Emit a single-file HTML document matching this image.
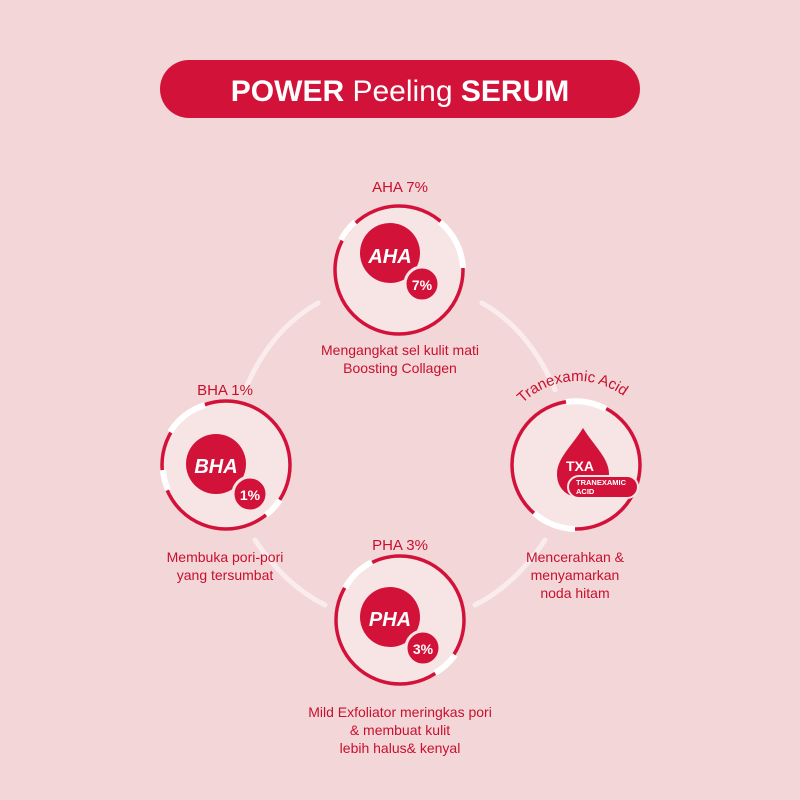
<!DOCTYPE html>
<html><head><meta charset="utf-8"><style>
body{margin:0;width:800px;height:800px;background:#f3d6d7;overflow:hidden}
svg{display:block}
text{font-family:"Liberation Sans",sans-serif}
</style></head><body>
<svg width="800" height="800" viewBox="0 0 800 800">
<defs>
<path id="arc" d="M505 430 A78 78 0 0 1 645 420" fill="none"/>
</defs>
<rect width="800" height="800" fill="#f3d6d7"/>
<g stroke="#fbeeee" stroke-width="5" fill="none" stroke-linecap="round" opacity="0.9">
<path d="M318 303 Q 270 330 245 390"/>
<path d="M482 303 Q 530 330 555 390"/>
<path d="M255 540 Q 285 585 325 605"/>
<path d="M545 540 Q 515 585 475 605"/>
</g>
<rect x="160" y="60" width="480" height="58" rx="29" fill="#d3123a"/>
<text x="400" y="101" text-anchor="middle" font-size="30" fill="#fff"><tspan font-weight="bold">POWER</tspan> Peeling <tspan font-weight="bold">SERUM</tspan></text>

<!-- AHA -->
<circle cx="399" cy="270" r="64" fill="#f7e5e6" stroke="#d3123a" stroke-width="3.5"/>
<path d="M341 240 A64 64 0 0 1 355 222" stroke="#fff" stroke-width="6" fill="none"/>
<path d="M440 222 A64 64 0 0 1 463 268" stroke="#fff" stroke-width="6" fill="none"/>
<circle cx="390" cy="253" r="30" fill="#d3123a"/>
<text x="390" y="263" text-anchor="middle" font-size="20" font-weight="bold" font-style="italic" fill="#fff">AHA</text>
<circle cx="422" cy="284" r="17" fill="#d3123a" stroke="#f7e5e6" stroke-width="3"/>
<text x="422" y="290" text-anchor="middle" font-size="14" font-weight="bold" fill="#fff">7%</text>
<text x="400" y="192" text-anchor="middle" font-size="15" fill="#c8102e">AHA 7%</text>
<text x="400" y="355" text-anchor="middle" font-size="14" fill="#c8102e">Mengangkat sel kulit mati</text>
<text x="400" y="373" text-anchor="middle" font-size="14" fill="#c8102e">Boosting Collagen</text>

<!-- BHA -->
<circle cx="226" cy="465" r="64" fill="#f7e5e6" stroke="#d3123a" stroke-width="3.5"/>
<path d="M170 432 A64 64 0 0 1 205 405" stroke="#fff" stroke-width="6" fill="none"/>
<path d="M163 470 A64 64 0 0 0 168 490" stroke="#fff" stroke-width="6" fill="none"/>
<path d="M280 500 A64 64 0 0 1 266 515" stroke="#fff" stroke-width="6" fill="none"/>
<circle cx="216" cy="464" r="30" fill="#d3123a"/>
<text x="216" y="473" text-anchor="middle" font-size="20" font-weight="bold" font-style="italic" fill="#fff">BHA</text>
<circle cx="250" cy="494" r="17" fill="#d3123a" stroke="#f7e5e6" stroke-width="3"/>
<text x="250" y="500" text-anchor="middle" font-size="14" font-weight="bold" fill="#fff">1%</text>
<text x="225" y="395" text-anchor="middle" font-size="15" fill="#c8102e">BHA 1%</text>
<text x="225" y="562" text-anchor="middle" font-size="14" fill="#c8102e">Membuka pori-pori</text>
<text x="225" y="580" text-anchor="middle" font-size="14" fill="#c8102e">yang tersumbat</text>

<!-- TXA -->
<circle cx="576" cy="465" r="64" fill="#f7e5e6" stroke="#d3123a" stroke-width="3.5"/>
<path d="M566 402 A64 64 0 0 1 606 409" stroke="#fff" stroke-width="6" fill="none"/>
<path d="M534 513 A64 64 0 0 0 575 529" stroke="#fff" stroke-width="6" fill="none"/>
<path d="M583 428 C572 446 557 458 557 474 C557 490 569 498 583 498 C597 498 609 490 609 474 C609 458 594 446 583 428 Z" fill="#d3123a"/>
<text x="580" y="471" text-anchor="middle" font-size="14" font-weight="bold" fill="#fff">TXA</text>
<rect x="568" y="476" width="70" height="22" rx="11" fill="#d3123a" stroke="#f7e5e6" stroke-width="2"/>
<text x="576" y="485" font-size="7.5" font-weight="bold" fill="#fff">TRANEXAMIC</text>
<text x="576" y="494" font-size="7.5" font-weight="bold" fill="#fff">ACID</text>
<text font-size="15" fill="#c8102e"><textPath href="#arc" startOffset="50%" text-anchor="middle">Tranexamic Acid</textPath></text>
<text x="575" y="562" text-anchor="middle" font-size="14" fill="#c8102e">Mencerahkan &amp;</text>
<text x="575" y="580" text-anchor="middle" font-size="14" fill="#c8102e">menyamarkan</text>
<text x="575" y="598" text-anchor="middle" font-size="14" fill="#c8102e">noda hitam</text>

<!-- PHA -->
<circle cx="400" cy="620" r="64" fill="#f7e5e6" stroke="#d3123a" stroke-width="3.5"/>
<path d="M345 588 A64 64 0 0 1 372 562" stroke="#fff" stroke-width="6" fill="none"/>
<path d="M455 655 A64 64 0 0 1 435 673" stroke="#fff" stroke-width="6" fill="none"/>
<circle cx="390" cy="617" r="30" fill="#d3123a"/>
<text x="390" y="626" text-anchor="middle" font-size="20" font-weight="bold" font-style="italic" fill="#fff">PHA</text>
<circle cx="423" cy="648" r="17" fill="#d3123a" stroke="#f7e5e6" stroke-width="3"/>
<text x="423" y="654" text-anchor="middle" font-size="14" font-weight="bold" fill="#fff">3%</text>
<text x="400" y="550" text-anchor="middle" font-size="15" fill="#c8102e">PHA 3%</text>
<text x="400" y="717" text-anchor="middle" font-size="14" fill="#c8102e">Mild Exfoliator meringkas pori</text>
<text x="400" y="735" text-anchor="middle" font-size="14" fill="#c8102e">&amp; membuat kulit</text>
<text x="400" y="753" text-anchor="middle" font-size="14" fill="#c8102e">lebih halus&amp; kenyal</text>
</svg>
</body></html>
